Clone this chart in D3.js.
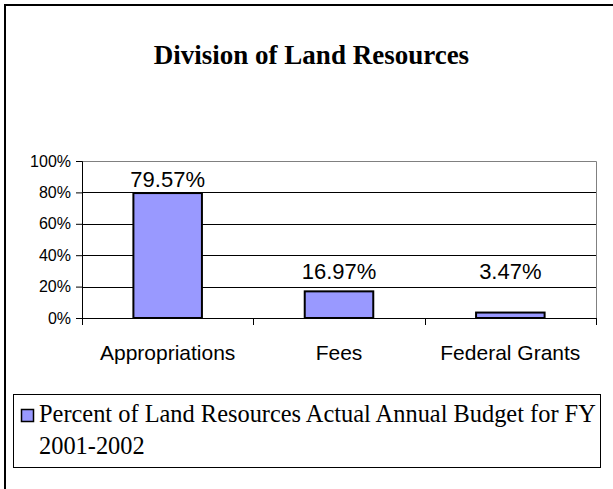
<!DOCTYPE html>
<html lang = 'en'>
    <head>
        <meta charset="utf-8">
        <title>Division of Land Resources</title>
        <script type='text/javascript' src='https://d3js.org/d3.v7.min.js'></script>
        <style type='text/css'>
            body {margin: 0; background: white;}
            .axisText {font-family: "Liberation Sans", Arial, sans-serif; fill: #000;}
            .serif {font-family: "Liberation Serif", "Times New Roman", serif; fill: #000;}
        </style>
    </head>
<body>
<svg width=613 height=489></svg>
<script>

// chart data
var categories = ["Appropriations", "Fees", "Federal Grants"];
var values = [0.7957, 0.1697, 0.0347];
var valueLabels = ["79.57%", "16.97%", "3.47%"];
var yTicks = [0, 0.2, 0.4, 0.6, 0.8, 1.0];
var title = "Division of Land Resources";
var legendLines = ["Percent of Land Resources Actual Annual Budget for FY", "2001-2002"];

var svg = d3.select('svg');

// outer chart border (only top/left show inside the picture)
svg.append('rect')
    .attr('x', 5).attr('y', 5)
    .attr('width', 700).attr('height', 600)
    .attr('fill', 'white')
    .attr('stroke', '#000')
    .attr('stroke-width', 2);

var plotLeft = 82, plotRight = 596, plotTop = 161, plotBottom = 318;

var xScale = d3.scaleBand().domain(categories).range([plotLeft, plotRight])
    .paddingInner(0.6).paddingOuter(0.3);
var yScale = d3.scaleLinear().domain([0, 1]).range([plotBottom, plotTop]);

// title
svg.append('text')
    .attr('class', 'serif')
    .attr('x', 311.5).attr('y', 64)
    .attr('text-anchor', 'middle')
    .style('font-size', '27px')
    .style('font-weight', 'bold')
    .text(title);

// gridlines
svg.append('g')
    .selectAll('line')
    .data(yTicks.filter(function(d){return d > 0 && d < 1;}))
    .enter()
    .append('line')
        .attr('x1', plotLeft).attr('x2', plotRight)
        .attr('y1', function(d){return Math.round(yScale(d)) + 0.5;})
        .attr('y2', function(d){return Math.round(yScale(d)) + 0.5;})
        .attr('stroke', '#000');

// plot area border top/right in gray
svg.append('path')
    .attr('d', 'M' + plotLeft + ',' + (plotTop + 0.5) + 'H' + (plotRight + 0.5) + 'V' + plotBottom)
    .attr('fill', 'none')
    .attr('stroke', '#808080');

// bars
svg.append('g')
    .selectAll('rect')
    .data(values)
    .enter()
    .append('rect')
        .attr('x', function(d, i){return xScale(categories[i]);})
        .attr('y', function(d){return yScale(d);})
        .attr('width', xScale.bandwidth())
        .attr('height', function(d){return yScale(0) - yScale(d);})
        .attr('fill', '#9999FF')
        .attr('stroke', '#000')
        .attr('stroke-width', 2);

// value labels (small bars get their label lifted to a common row)
svg.append('g')
    .selectAll('text')
    .data(values)
    .enter()
    .append('text')
        .attr('class', 'axisText')
        .attr('x', function(d, i){return xScale(categories[i]) + xScale.bandwidth() / 2;})
        .attr('y', function(d){return Math.min(yScale(d) - 6, yScale(0.25));})
        .attr('text-anchor', 'middle')
        .style('font-size', '22px')
        .text(function(d, i){return valueLabels[i];});

// y axis
var yAxis = svg.append('g')
    .attr('transform', 'translate(' + plotLeft + ',0)')
    .call(d3.axisLeft(yScale).tickValues(yTicks).tickFormat(d3.format('.0%')).tickSize(6).tickPadding(5));
yAxis.select('.domain').attr('stroke', '#000');
yAxis.selectAll('text').attr('class', 'axisText').style('font-size', '16px').attr('font-family', null);

// x axis: ticks at the category boundaries
var xg = svg.append('g');
xg.append('line')
    .attr('x1', plotLeft).attr('x2', plotRight + 1)
    .attr('y1', plotBottom + 0.5).attr('y2', plotBottom + 0.5)
    .attr('stroke', '#000');
var step = xScale.step();
xg.selectAll('line.tick')
    .data(d3.range(categories.length + 1))
    .enter()
    .append('line')
        .attr('class', 'tick')
        .attr('x1', function(i){return Math.round(plotLeft + i * step) + 0.5;})
        .attr('x2', function(i){return Math.round(plotLeft + i * step) + 0.5;})
        .attr('y1', plotBottom).attr('y2', plotBottom + 7)
        .attr('stroke', '#000');
xg.selectAll('text')
    .data(categories)
    .enter()
    .append('text')
        .attr('class', 'axisText')
        .attr('x', function(d){return xScale(d) + xScale.bandwidth() / 2;})
        .attr('y', 360)
        .attr('text-anchor', 'middle')
        .style('font-size', '21px')
        .text(function(d){return d;});

// legend
var legend = svg.append('g');
legend.append('rect')
    .attr('x', 13.5).attr('y', 394.5)
    .attr('width', 587).attr('height', 73)
    .attr('fill', 'white')
    .attr('stroke', '#000');
legend.append('rect')
    .attr('x', 21.5).attr('y', 409.5)
    .attr('width', 12).attr('height', 12)
    .attr('fill', '#9999FF')
    .attr('stroke', '#000')
    .attr('stroke-width', 1.5);
legend.selectAll('text.leg')
    .data(legendLines)
    .enter()
    .append('text')
        .attr('class', 'serif')
        .attr('x', 39)
        .attr('y', function(d, i){return 422 + i * 31.5;})
        .style('font-size', '24.4px')
        .text(function(d){return d;});

</script>
</body>
</html>
